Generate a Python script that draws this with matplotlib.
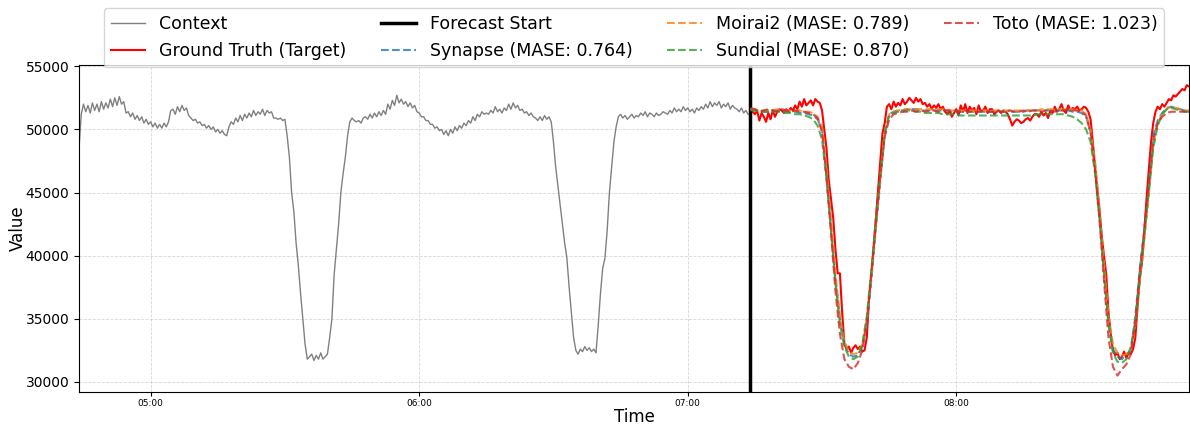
import numpy as np
import pandas as pd
import matplotlib
matplotlib.use("Agg")
import matplotlib.pyplot as plt
import matplotlib.dates as mdates

# context series, 30 s steps from 04:44, values in hundreds
context_vals = [
    485, 512, 520, 514, 519, 513, 521, 515, 520, 514, 522, 516, 521, 517, 524, 518, 525, 519, 526, 520,
    522, 513, 514, 510, 513, 508, 511, 507, 510, 505, 508, 504, 506, 502, 505, 501, 504, 501, 505, 502,
    506, 515, 516, 512, 518, 514, 519, 515, 517, 511, 509, 507, 508, 505, 506, 503, 504, 501, 503, 500,
    502, 498, 500, 497, 499, 496, 495, 502, 506, 504, 509, 506, 511, 507, 512, 509, 513, 510, 515, 511,
    514, 512, 516, 511, 515, 513, 514, 509, 509, 508, 509, 507, 508, 495, 478, 450, 435, 410, 392, 370,
    350, 330, 318, 320, 322, 317, 321, 318, 323, 318, 320, 322, 335, 350, 385, 405, 425, 450, 465, 478,
    495, 506, 509, 507, 506, 507, 505, 509, 510, 508, 512, 509, 513, 510, 514, 511, 515, 512, 520, 516,
    523, 519, 527, 521, 524, 520, 522, 518, 521, 517, 519, 514, 513, 510, 510, 507, 507, 504, 504, 501,
    502, 499, 500, 496, 499, 495, 500, 497, 502, 499, 503, 501, 505, 503, 507, 505, 510, 507, 512, 510,
    514, 512, 513, 512, 515, 513, 518, 514, 516, 513, 517, 515, 520, 516, 521, 517, 519, 515, 516, 513,
    514, 511, 513, 510, 509, 507, 510, 507, 511, 508, 510, 506, 490, 470, 455, 440, 425, 410, 398, 375,
    355, 335, 325, 322, 326, 324, 328, 325, 327, 324, 326, 323, 345, 370, 390, 398, 420, 450, 470, 490,
    502, 510, 512, 509, 511, 508, 510, 512, 509, 511, 510, 513, 511, 514, 510, 513, 512, 510, 513, 511,
    512, 514, 513, 512, 515, 513, 517, 514, 516, 514, 518, 515, 517, 514, 516, 513, 517, 515, 518, 516,
    520, 517, 522, 518, 521, 519, 522, 517, 520, 518, 521, 516, 519, 517, 516, 514, 517, 513, 515, 512,
]

# ground truth, 30 s steps from 07:14
target_vals = [
    516, 514, 512, 515, 507, 513, 510, 506, 513, 508, 515, 510, 514, 516, 515, 513, 516, 514, 517, 515,
    519, 516, 522, 518, 524, 519, 521, 523, 519, 524, 522, 521, 515, 500, 485, 460, 445, 430, 405, 386,
    386, 355, 330, 326, 328, 323, 327, 329, 326, 328, 324, 325, 335, 365, 385, 405, 428, 450, 475, 497,
    505, 518, 520, 516, 522, 518, 521, 519, 524, 520, 522, 525, 523, 521, 525, 522, 524, 520, 521, 518,
    520, 516, 519, 517, 520, 516, 518, 514, 512, 515, 510, 513, 516, 511, 519, 514, 520, 513, 518, 515,
    517, 512, 519, 514, 515, 518, 513, 516, 516, 512, 514, 515, 513, 515, 514, 512, 508, 503, 506, 508,
    507, 505, 506, 508, 509, 507, 510, 512, 512, 510, 514, 511, 513, 509, 515, 513, 518, 514, 516, 520,
    515, 513, 519, 515, 517, 516, 518, 515, 516, 518, 517, 514, 508, 490, 470, 452, 435, 415, 400, 385,
    355, 338, 325, 321, 323, 318, 320, 324, 319, 323, 322, 326, 335, 360, 382, 395, 420, 445, 468, 490,
    505, 514, 518, 516, 520, 518, 521, 524, 523, 527, 526, 528, 530, 532, 531, 535, 534,
]

# model forecasts, 1 min steps from 07:14
synapse_vals = [
    516, 515, 515, 514, 514, 515, 515, 515, 514, 514,
    514, 513, 513, 512, 511, 508, 500, 466, 425, 382,
    350, 330, 322, 320, 321, 328, 345, 380, 420, 458,
    495, 512, 514, 515, 515, 516, 516, 516, 515, 515,
    515, 515, 515, 515, 515, 514, 514, 514, 514, 514,
    514, 514, 514, 514, 514, 514, 514, 514, 514, 514,
    514, 514, 515, 515, 515, 515, 515, 515, 515, 515,
    515, 515, 514, 514, 513, 510, 498, 472, 435, 390,
    348, 326, 320, 318, 322, 325, 352, 390, 420, 455,
    495, 507, 513, 517, 518, 517, 516, 515, 514,
]
moirai_vals = [
    516, 516, 515, 515, 515, 515, 516, 516, 515, 515,
    515, 515, 514, 514, 513, 510, 502, 470, 428, 385,
    352, 332, 324, 322, 323, 330, 348, 382, 422, 460,
    497, 512, 514, 515, 516, 516, 516, 516, 516, 516,
    516, 516, 516, 516, 516, 515, 515, 515, 515, 515,
    515, 515, 515, 515, 515, 515, 515, 515, 515, 515,
    515, 515, 515, 515, 515, 516, 516, 516, 516, 516,
    516, 516, 516, 515, 515, 512, 500, 475, 438, 395,
    352, 330, 323, 321, 322, 324, 345, 380, 412, 448,
    488, 505, 512, 516, 518, 517, 516, 515, 515,
]
sundial_vals = [
    515, 515, 514, 514, 514, 514, 514, 514, 513, 513,
    512, 512, 511, 510, 508, 503, 492, 460, 420, 378,
    346, 328, 320, 318, 320, 330, 352, 388, 428, 465,
    498, 511, 513, 514, 514, 515, 515, 514, 514, 513,
    513, 513, 513, 512, 512, 512, 512, 511, 511, 511,
    511, 511, 511, 511, 511, 511, 511, 511, 511, 511,
    511, 511, 511, 511, 512, 512, 512, 512, 512, 512,
    512, 511, 510, 508, 505, 500, 490, 465, 428, 385,
    345, 323, 316, 315, 318, 328, 348, 382, 415, 450,
    485, 503, 512, 516, 517, 516, 515, 514, 514,
]
toto_vals = [
    517, 516, 514, 515, 516, 515, 514, 516, 515, 514,
    515, 514, 514, 513, 512, 509, 498, 462, 418, 372,
    338, 318, 312, 310, 315, 325, 348, 385, 425, 462,
    494, 508, 512, 513, 514, 514, 515, 514, 515, 514,
    515, 515, 514, 515, 515, 514, 515, 514, 515, 514,
    514, 514, 515, 514, 514, 515, 514, 514, 515, 514,
    514, 515, 514, 515, 515, 514, 515, 515, 514, 515,
    515, 516, 515, 515, 514, 511, 497, 468, 428, 380,
    335, 312, 305, 310, 314, 322, 348, 388, 420, 456,
    492, 505, 510, 513, 514, 514, 514, 514, 514,
]

models = [
    ("Synapse", 0.764, synapse_vals, "tab:blue"),
    ("Moirai2", 0.789, moirai_vals, "tab:orange"),
    ("Sundial", 0.870, sundial_vals, "tab:green"),
    ("Toto", 1.023, toto_vals, "tab:red"),
]

start = pd.Timestamp("2024-01-01 04:44:00")
forecast_start = pd.Timestamp("2024-01-01 07:14:00")
context_t = pd.date_range(start, periods=len(context_vals), freq="30s")
target_t = pd.date_range(forecast_start, periods=len(target_vals), freq="30s")
model_t = pd.date_range(forecast_start, periods=len(synapse_vals), freq="1min")

fig = plt.figure(figsize=(11.9, 4.28), dpi=100)
ax = fig.add_axes([0.0664, 0.0841, 0.9328, 0.764])

ax.plot(context_t, np.array(context_vals) * 100, color="gray", lw=1, label="Context")
ax.plot(target_t, np.array(target_vals) * 100, color="red", lw=1.5, label="Ground Truth (Target)")
ax.axvline(forecast_start, color="black", lw=2.5, label="Forecast Start")
for name, mase, vals, col in models:
    ax.plot(model_t, np.array(vals) * 100, color=col, ls="--", lw=1.5, alpha=0.8,
            label=f"{name} (MASE: {mase:.3f})")

ax.set_xlim(context_t[0], target_t[-1])
ax.set_ylim(29200, 55100)
ax.xaxis.set_major_locator(mdates.HourLocator())
ax.xaxis.set_major_formatter(mdates.DateFormatter("%H:%M"))
ax.tick_params(axis="x", labelsize=6.5, length=3, pad=2)
ax.tick_params(axis="y", labelsize=10)
ax.set_xlabel("Time", fontsize=12, labelpad=0)
ax.set_ylabel("Value", fontsize=12, labelpad=-1)
ax.grid(True, linestyle="--", lw=0.6, alpha=0.5)
ax.legend(loc="upper center", bbox_to_anchor=(0.5, 1.2), ncol=4, fontsize=12.5)

fig.savefig("out.png", dpi=100)
